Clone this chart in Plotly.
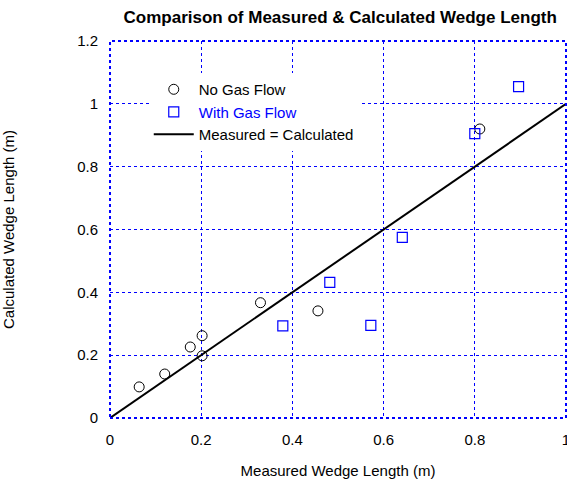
import plotly.graph_objects as go

no_gas_x = [0.064, 0.12, 0.176, 0.202, 0.202, 0.330, 0.456, 0.811]
no_gas_y = [0.099, 0.140, 0.226, 0.262, 0.198, 0.367, 0.341, 0.920]
gas_x = [0.379, 0.482, 0.572, 0.641, 0.800, 0.896]
gas_y = [0.293, 0.432, 0.295, 0.575, 0.905, 1.055]
line_x = [0, 1]
line_y = [0, 1]
x_ticks = [0, 0.2, 0.4, 0.6, 0.8, 1]
x_labels = ["0", "0.2", "0.4", "0.6", "0.8", "1"]
y_ticks = [0, 0.2, 0.4, 0.6, 0.8, 1, 1.2]
y_labels = ["0", "0.2", "0.4", "0.6", "0.8", "1", "1.2"]

FONT = "Liberation Sans, Arial, sans-serif"

fig = go.Figure()
fig.add_trace(go.Scatter(x=no_gas_x, y=no_gas_y, mode="markers", name="No Gas Flow",
                         marker=dict(symbol="circle-open", size=10, color="black", line=dict(width=1))))
fig.add_trace(go.Scatter(x=gas_x, y=gas_y, mode="markers",
                         name="<span style='color:#0000ff'>With Gas Flow</span>",
                         marker=dict(symbol="square-open", size=10, color="#0000ff", line=dict(width=1.2))))
fig.add_trace(go.Scatter(x=line_x, y=line_y, mode="lines", name="Measured = Calculated",
                         line=dict(color="black", width=2)))

axis_common = dict(showgrid=True, gridcolor="#0000ff", griddash="dot", gridwidth=1,
                   zeroline=False, showline=False, ticks="outside", ticklen=8,
                   tickcolor="rgba(0,0,0,0)", ticklabeloverflow="allow",
                   tickfont=dict(family=FONT, size=15, color="black"))

fig.update_xaxes(range=[0, 1], tickvals=x_ticks, ticktext=x_labels,
                 title=dict(text="Measured Wedge Length (m)", font=dict(family=FONT, size=15, color="black"), standoff=18),
                 automargin=False, **axis_common)
fig.update_yaxes(range=[0, 1.2], tickvals=y_ticks, ticktext=y_labels,
                 title=dict(text="Calculated Wedge Length (m)", font=dict(family=FONT, size=15, color="black"), standoff=58),
                 automargin=False, **axis_common)

fig.add_shape(type="rect", xref="paper", yref="paper", x0=0, y0=0, x1=1, y1=1,
              line=dict(color="#0000ff", width=2, dash="dot"), layer="above")

fig.update_layout(
    width=567, height=483,
    margin=dict(l=110, r=1, t=41, b=65),
    plot_bgcolor="white", paper_bgcolor="white",
    title=dict(text="<b>Comparison of Measured & Calculated Wedge Length</b>",
               font=dict(family=FONT, size=17, color="black"),
               x=0.6, xanchor="center", y=0.965, yanchor="middle"),
    font=dict(family=FONT, size=15, color="black"),
    legend=dict(x=0.085, y=0.915, xanchor="left", yanchor="top", bgcolor="white",
                borderwidth=0, font=dict(family=FONT, size=15, color="black"),
                tracegroupgap=0, itemwidth=40),
    showlegend=True,
)

fig.write_html("out.html")
